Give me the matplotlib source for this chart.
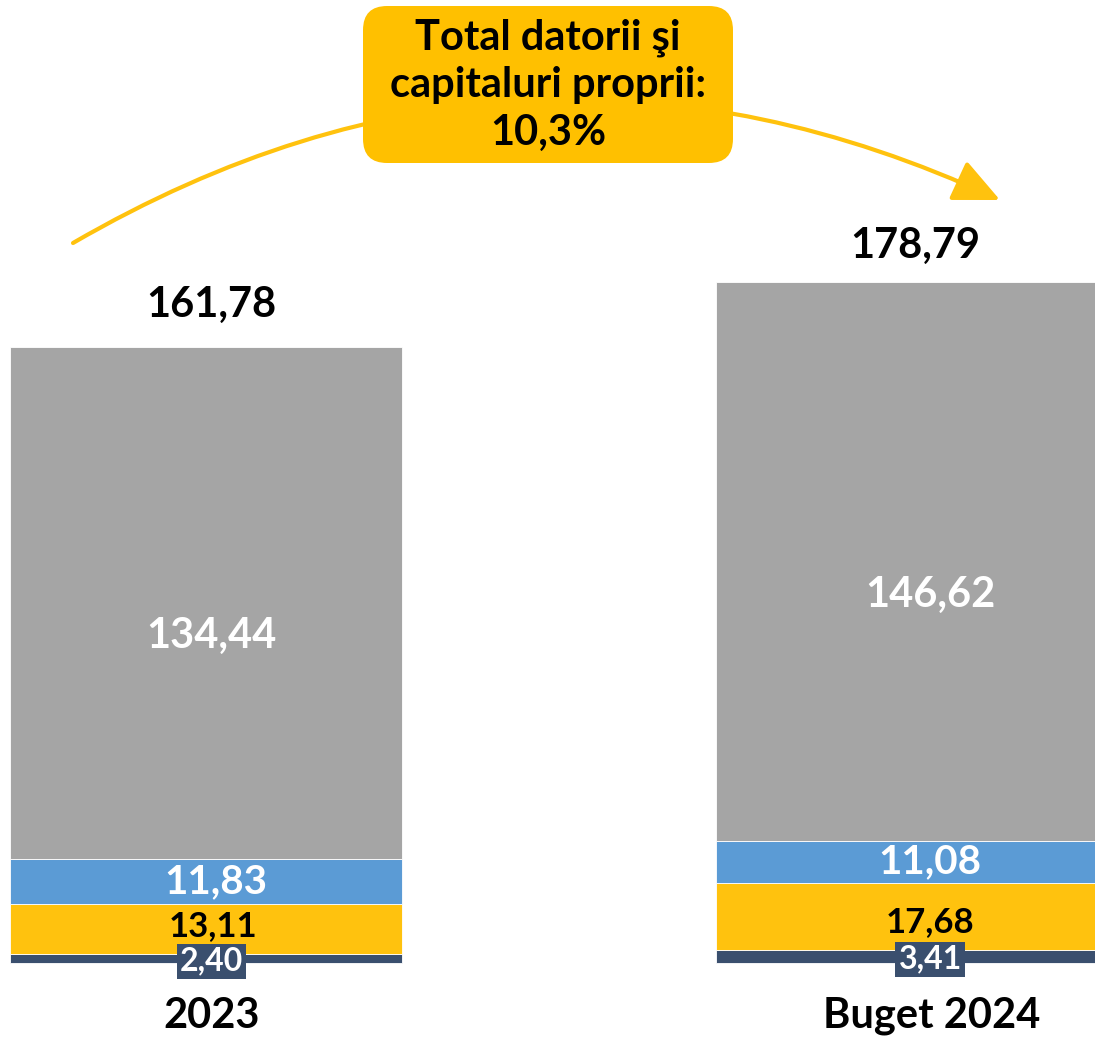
import matplotlib
matplotlib.use("Agg")
import matplotlib.pyplot as plt
from matplotlib.patches import FancyBboxPatch

plt.rcParams["font.family"] = ["Lato", "DejaVu Sans"]
plt.rcParams["font.weight"] = "bold"

categories = ["2023", "Buget 2024"]
totals = ["161,78", "178,79"]
# segmente de jos in sus
navy_vals = [2.40, 3.41]
yellow_vals = [13.11, 17.68]
blue_vals = [11.83, 11.08]
gray_vals = [134.44, 146.62]
growth_text = "Total datorii şi\ncapitaluri proprii:\n10,3%"

colors = {
    "navy": "#3A4F6E",
    "yellow": "#FFC20E",
    "blue": "#5B9BD5",
    "gray": "#A5A5A5",
}


def fmt(v):
    return f"{v:.2f}".replace(".", ",")


fig = plt.figure(figsize=(10.95, 10.40), dpi=100)
ax = fig.add_axes([0, 0, 1, 1])
ax.set_xlim(-0.2918, 1.2592)
ax.set_ylim(-20.22, 252.9)
ax.axis("off")

x = [0, 1]
width = 0.5552
series = [
    (navy_vals, "navy"),
    (yellow_vals, "yellow"),
    (blue_vals, "blue"),
    (gray_vals, "gray"),
]
bottoms = [0.0, 0.0]
for vals, key in series:
    ax.bar(x, vals, width, bottom=bottoms, color=colors[key],
           edgecolor="white", linewidth=0.6, zorder=2)
    for i, v in enumerate(vals):
        cy = bottoms[i] + v / 2
        dx = 0 if i == 0 else 13
        if key == "navy":
            ax.annotate(fmt(v), (x[i], cy), xytext=(dx + 4 if i == 0 else dx, -2),
                        textcoords="offset points", ha="center", va="center",
                        fontsize=23, color="white", fontweight="bold", zorder=4,
                        bbox=dict(boxstyle="square,pad=0.1", fc=colors["navy"], ec="none"))
        elif key == "yellow":
            ax.annotate(fmt(v), (x[i], cy), xytext=(dx + 5 if i == 0 else dx, 2 if i == 0 else -4),
                        textcoords="offset points", ha="center", va="center",
                        fontsize=25, color="black", fontweight="bold", zorder=4)
        elif key == "blue":
            ax.annotate(fmt(v), (x[i], cy), xytext=(dx + 7 if i == 0 else dx, 0),
                        textcoords="offset points", ha="center", va="center",
                        fontsize=29, color="white", fontweight="bold", zorder=4)
        else:
            ax.annotate(fmt(v), (x[i], cy), xytext=(dx + 4 if i == 0 else dx, -24),
                        textcoords="offset points", ha="center", va="center",
                        fontsize=30, color="white", fontweight="bold", zorder=4)
    bottoms = [b + v for b, v in zip(bottoms, vals)]

# totaluri deasupra barelor
for i, t in enumerate(totals):
    ax.annotate(t, (x[i], bottoms[i]), xytext=(4 if i == 0 else 2, 30 if i == 0 else 26),
                textcoords="offset points", ha="center", va="center",
                fontsize=30, color="black", fontweight="bold")

# etichete categorii
for i, c in enumerate(categories):
    ax.annotate(c, (x[i], 0), xytext=(4 if i == 0 else 14, -38),
                textcoords="offset points", ha="center", va="center",
                fontsize=30, color="black", fontweight="bold")

# sageata curbata
ax.annotate("", xy=(1000, 840), xytext=(73, 797),
            xycoords="figure pixels", textcoords="figure pixels",
            arrowprops=dict(arrowstyle="-|>,head_length=1.3,head_width=0.6",
                            connectionstyle="arc3,rad=-0.26",
                            color="#FFC20E", lw=3, mutation_scale=22,
                            shrinkA=0, shrinkB=0),
            zorder=1)

# caseta cu cresterea
W, H = 1095, 1040
box = FancyBboxPatch((363 / W, 877 / H), 370 / W, 157 / H,
                     boxstyle="round,pad=0,rounding_size=0.022",
                     transform=fig.transFigure, fc="#FFC000", ec="none", zorder=5,
                     mutation_aspect=W / H)
fig.patches.append(box)
fig.text(548 / W, 955 / H, growth_text, ha="center", va="center",
         fontsize=30, fontweight="bold", color="black", linespacing=1.3, zorder=6)

fig.savefig("out.png", dpi=100)
